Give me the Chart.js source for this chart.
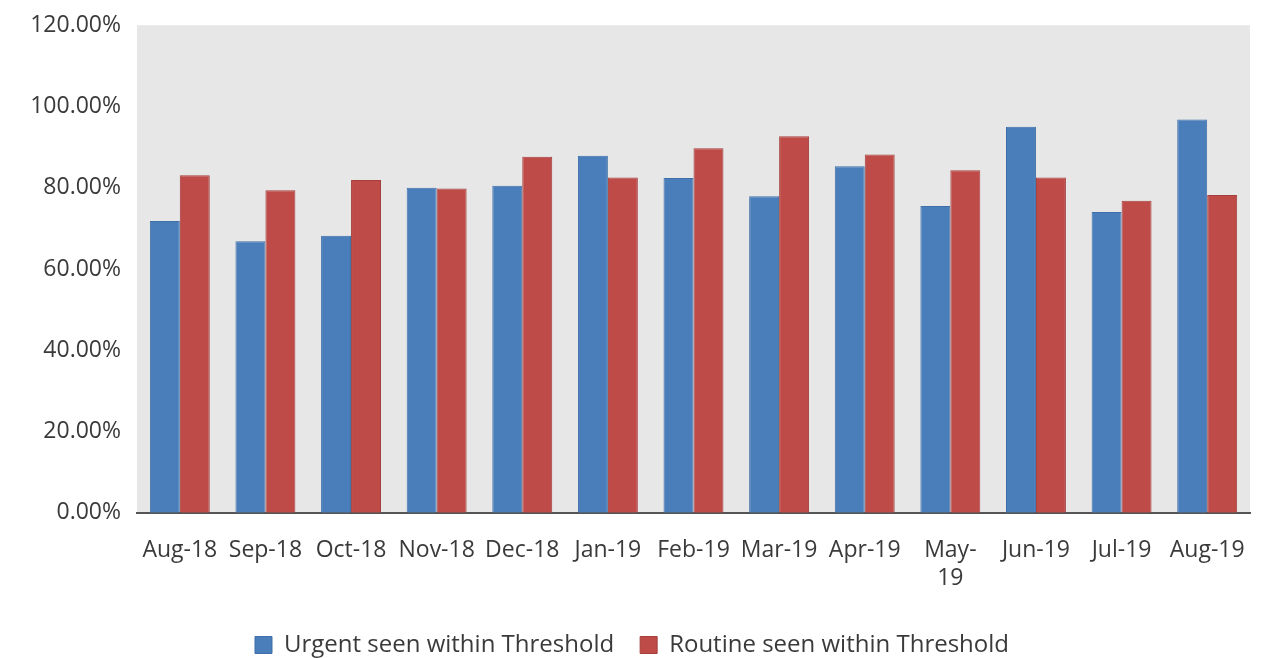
<!DOCTYPE html>
<html>
<head>
<meta charset="utf-8">
<script src="https://cdn.jsdelivr.net/npm/chart.js@4/dist/chart.umd.min.js"></script>
<style>
html,body{margin:0;padding:0;background:#fff}
#wrap{width:1287px;height:658px}
</style>
</head>
<body>
<div id="wrap"><canvas id="thresholdChart"></canvas></div>
<script>
// months on the x axis (May wraps onto two lines)
let months=["Aug-18","Sep-18","Oct-18","Nov-18","Dec-18","Jan-19","Feb-19","Mar-19","Apr-19",["May-","19"],"Jun-19","Jul-19","Aug-19"]

// % seen within threshold
let urgent=[71.8,66.8,68.2,80.0,80.5,87.9,82.4,77.9,85.3,75.5,95.0,74.0,96.8]
let routine=[83.1,79.4,81.9,79.8,87.6,82.5,89.7,92.7,88.2,84.3,82.5,76.8,78.2]

let yTicks=[0,20,40,60,80,100,120]

// grey plot background
const plotBg={
id:"plotBg",
beforeDraw(chart){
let a=chart.chartArea,ctx=chart.ctx
ctx.save()
ctx.fillStyle="#e7e7e7"
ctx.fillRect(a.left,a.top,a.right-a.left,a.bottom-a.top)
ctx.restore()
}
}

const font={family:"'Open Sans', sans-serif",size:23}

new Chart(document.getElementById("thresholdChart"),{

type:"bar",

data:{
labels:months,
datasets:[{
label:"Urgent seen within Threshold",
data:urgent,
backgroundColor:"#4a7ebb",
borderColor:"#3e6fa8",
borderWidth:1
},{
label:"Routine seen within Threshold",
data:routine,
backgroundColor:"#be4b48",
borderColor:"#a53f3c",
borderWidth:1
}]
},

options:{
responsive:true,
maintainAspectRatio:false,
animation:false,
layout:{padding:{left:14,right:37,top:4,bottom:-9}},
datasets:{bar:{categoryPercentage:0.7,barPercentage:1.0}},
plugins:{
tooltip:{enabled:false},
legend:{
position:"bottom",
labels:{
font:{family:font.family,size:24},
color:"#3a3a3a",
boxWidth:17,
boxHeight:17,
padding:26
}
}
},
scales:{
x:{
afterFit(s){s.height-=9},
grid:{display:false,drawTicks:false},
border:{display:true,color:"#555",width:2},
ticks:{font:font,color:"#3a3a3a",maxRotation:0,autoSkip:false,padding:24}
},
y:{
min:0,
max:120,
afterBuildTicks(s){s.ticks=yTicks.map(v=>({value:v}))},
afterFit(s){s.width=123},
grid:{display:false,drawTicks:false},
border:{display:false},
ticks:{
font:{family:font.family,size:23,lineHeight:0.8},
color:"#3a3a3a",
padding:16,
callback:v=>v.toFixed(2)+"%"
}
}
}
},

plugins:[plotBg]

})
</script>
</body>
</html>
